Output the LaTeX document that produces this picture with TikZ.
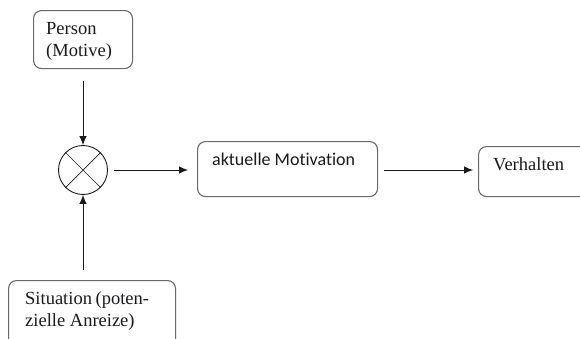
\documentclass[tikz,border=0pt]{standalone}
\usepackage{fontspec}
\setmainfont{Liberation Serif}
\newfontfamily\calibrifont[Ligatures={NoCommon,NoRare,NoDiscretionary}]{Carlito}
\usetikzlibrary{arrows.meta, positioning}
\definecolor{boxgray}{RGB}{105,105,105}
\definecolor{inkblack}{RGB}{25,25,30}
\tikzset{%
  x=1pt, y=-1pt,
  box/.style={     % rounded frame, text is placed separately
    draw=boxgray,
    line width=1.1pt,
    rounded corners=8pt,
    anchor=north west,
    inner sep=0pt},
  txt/.style={
    inner sep=0pt,
    text=inkblack,
    align=left,
    font=\fontsize{18.5}{22}\selectfont},
  flow/.style={
    draw=inkblack,
    line width=0.9pt,
    -{Latex[length=9pt,width=7.5pt]}}
}
\begin{document}
\begin{tikzpicture}
    \useasboundingbox (0,0) rectangle (580,338);
    \clip (0,0) rectangle (580,338);

    % frames
    \node[box, minimum width=99pt, minimum height=58pt] (person) at (33,10) {};
    \node[box, minimum width=180pt, minimum height=55pt] (motiv) at (197,141) {};
    \node[box, minimum width=130pt, minimum height=50pt] (verh) at (478,146) {};
    \node[box, minimum width=167pt, minimum height=80pt] (sit) at (8,280) {};

    % combination point
    \node[draw=inkblack, line width=0.9pt, circle, minimum size=49pt,
      inner sep=0pt] (mix) at (83,170) {};
    \draw[inkblack, line width=0.7pt]
      (mix.north west) -- (mix.south east)
      (mix.north east) -- (mix.south west);

    % texts
    \node[txt, anchor=north west] (personT) at (46,22) {Person\\(Motive)};
    \node[txt, anchor=base west, font=\calibrifont\fontsize{18}{22}\selectfont]
      (motivT) at (212,165) {aktuelle Motivation};
    \node[txt, anchor=base west] (verhT) at (493,170) {Verhalten};
    \node[txt, anchor=north west] (sitT) at (25,291)
      {Situation\hspace{-1pt} (poten-\\zielle Anreize)};

    % connectors
    \draw[flow, shorten <=12pt] (person.south -| mix) -- (mix.north);
    \draw[flow, shorten <=10pt] (sit.north -| mix) -- (mix.south);
    \draw[flow, shorten <=6pt, shorten >=9pt] (mix.east) -- (motiv.west |- mix);
    \draw[flow, shorten <=6pt, shorten >=5pt] (motiv.east |- mix) -- (verh.west |- mix);

\end{tikzpicture}
\end{document}
